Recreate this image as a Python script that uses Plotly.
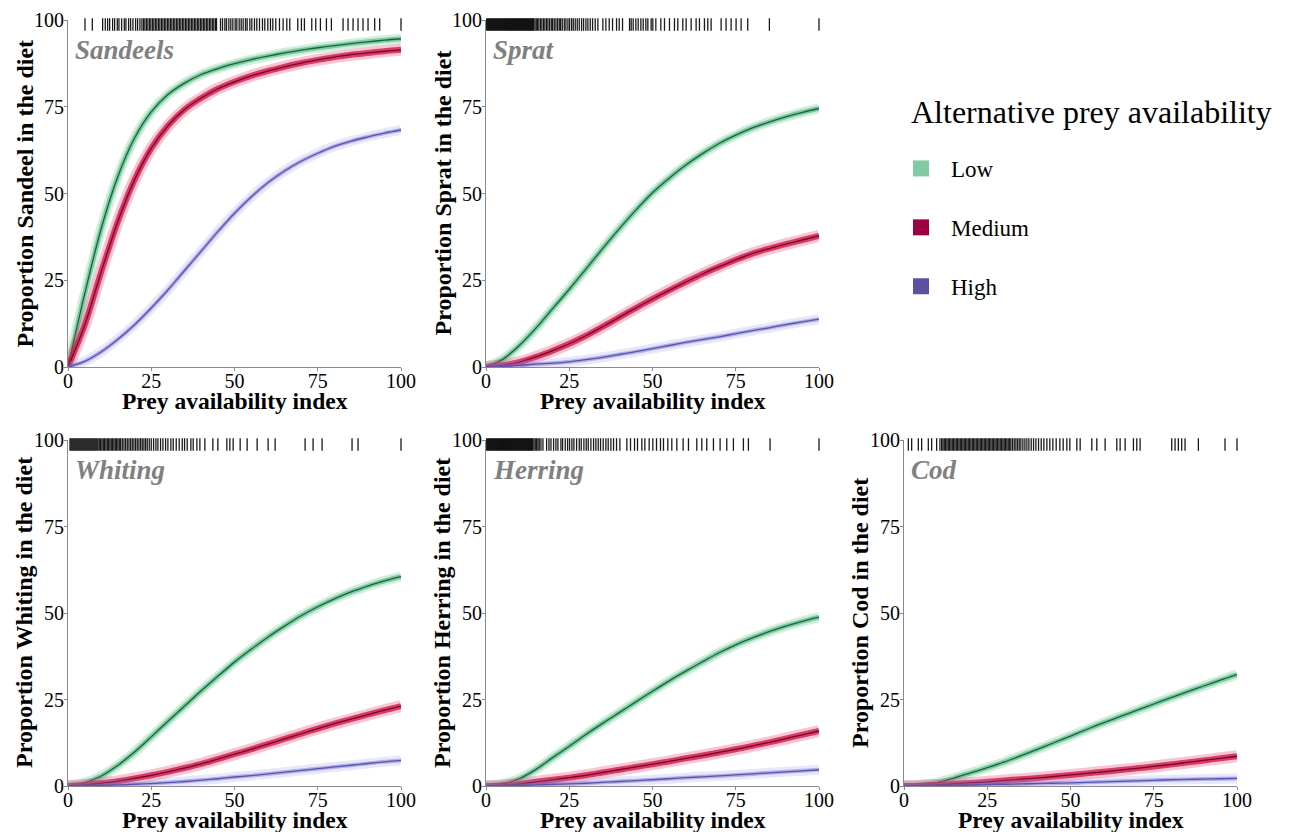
import plotly.graph_objects as go

# ---------------- data ----------------
x_grid = [0, 5, 10, 15, 20, 25, 30, 35, 40, 45, 50, 55, 60, 65, 70, 75, 80, 85, 90, 95, 100]

species = ["Sandeels", "Sprat", "Whiting", "Herring", "Cod"]
y_titles = ["Proportion Sandeel in the diet", "Proportion Sprat in the diet",
            "Proportion Whiting in the diet", "Proportion Herring in the diet",
            "Proportion Cod in the diet"]
levels = ["Low", "Medium", "High"]

sandeels_low = [0, 21, 40, 55, 66, 73.5, 78.5, 81.8, 84.3, 86, 87.4, 88.6, 89.6, 90.5, 91.3, 92, 92.6, 93.2, 93.7, 94.2, 94.6]
sandeels_med = [0, 12, 27.5, 42, 54, 63, 69.5, 74.2, 77.5, 80.2, 82.2, 83.9, 85.3, 86.5, 87.6, 88.5, 89.3, 90, 90.5, 91, 91.4]
sandeels_high = [0, 1.6, 4.4, 8.0, 12.2, 17.0, 22.2, 27.8, 33.4, 39.0, 44.3, 49.0, 53.1, 56.5, 59.3, 61.6, 63.6, 65.1, 66.3, 67.4, 68.3]

sprat_low = [0, 2.2, 6.2, 11.2, 16.8, 22.4, 28.2, 34.1, 39.8, 45.2, 50.2, 54.4, 58.2, 61.5, 64.4, 66.8, 68.9, 70.6, 72.1, 73.4, 74.5]
sprat_med = [0, 0.5, 1.4, 2.9, 4.7, 6.7, 9, 11.6, 14.3, 17, 19.6, 22.1, 24.5, 26.8, 28.9, 30.9, 32.7, 34.1, 35.4, 36.6, 37.8]
sprat_high = [0, 0.2, 0.5, 0.8, 1.1, 1.5, 2.1, 2.8, 3.6, 4.4, 5.3, 6.2, 7.1, 7.9, 8.7, 9.6, 10.5, 11.3, 12.2, 13, 13.8]

whiting_low = [0, 0.9, 2.9, 6, 9.8, 14.2, 18.7, 23.1, 27.5, 31.7, 35.8, 39.5, 43, 46.2, 49.2, 51.8, 54.1, 56.1, 57.8, 59.3, 60.5]
whiting_med = [0, 0.3, 0.8, 1.4, 2.2, 3.1, 4.1, 5.2, 6.4, 7.8, 9.2, 10.6, 12.1, 13.6, 15.1, 16.6, 18, 19.3, 20.6, 21.9, 23.1]
whiting_high = [0, 0.1, 0.2, 0.35, 0.5, 0.7, 1.0, 1.3, 1.7, 2.1, 2.6, 3.0, 3.5, 4.0, 4.5, 5.0, 5.5, 6.0, 6.5, 7.0, 7.4]

herring_low = [0, 0.6, 2.1, 4.8, 8.2, 11.5, 14.9, 18.1, 21.2, 24.3, 27.4, 30.4, 33.2, 35.9, 38.5, 40.8, 42.8, 44.6, 46.2, 47.6, 48.8]
herring_med = [0, 0.15, 0.6, 1.2, 1.8, 2.4, 3.1, 3.9, 4.7, 5.5, 6.3, 7.1, 8, 8.8, 9.7, 10.6, 11.6, 12.6, 13.7, 14.8, 15.9]
herring_high = [0, 0.05, 0.2, 0.35, 0.5, 0.6, 0.8, 1.05, 1.3, 1.55, 1.8, 2.1, 2.4, 2.65, 2.9, 3.2, 3.5, 3.8, 4.1, 4.4, 4.7]

cod_low = [0, 0.3, 1.0, 2.3, 3.8, 5.3, 6.9, 8.7, 10.6, 12.5, 14.4, 16.4, 18.3, 20.1, 21.9, 23.7, 25.5, 27.2, 28.9, 30.6, 32.2]
cod_med = [0, 0.1, 0.3, 0.6, 0.9, 1.2, 1.6, 1.95, 2.3, 2.75, 3.2, 3.65, 4.1, 4.6, 5.1, 5.65, 6.2, 6.8, 7.4, 8.0, 8.6]
cod_high = [0, 0.02, 0.1, 0.15, 0.3, 0.4, 0.5, 0.6, 0.7, 0.8, 0.9, 1.05, 1.2, 1.35, 1.5, 1.65, 1.8, 1.9, 2.0, 2.1, 2.2]

sandeels_rug = [5.1, 7.3, 10.4, 11.2, 11.9, 12.5, 13.4, 14.0, 14.8, 15.3, 16.1, 16.9, 17.4, 18.2, 18.8, 19.5,
                20.3, 20.9, 21.6, 22.2, 22.7, 23.1, 23.6, 24.0, 24.5, 24.9, 25.4, 25.8, 26.3, 26.7, 27.2, 27.6,
                28.1, 28.5, 29.0, 29.4, 29.9, 30.3, 30.8, 31.2, 31.7, 32.1, 32.6, 33.0, 33.5, 33.9, 34.4, 34.8,
                35.3, 35.7, 36.2, 36.6, 37.1, 37.5, 38.0, 38.4, 38.9, 39.3, 39.8, 40.2, 40.7, 41.1, 41.6, 42.0,
                42.5, 42.9, 43.4, 43.8, 44.3, 44.6, 45.8, 46.4, 47.1, 47.6, 48.3, 48.9, 49.5, 50.2, 50.7, 51.4,
                52.0, 52.6, 53.3, 53.8, 54.6, 55.2, 56.0, 56.7, 57.5, 58.4, 59.1, 60.0, 60.8, 61.5, 62.4, 63.5,
                64.6, 65.7, 66.6, 69.0, 70.1, 71.0, 73.2, 74.4, 75.8, 77.6, 79.1, 82.6, 84.1, 85.6, 87.1, 88.6,
                90.1, 92.1, 93.6, 100.0]
sprat_rug = [0.2, 0.5, 0.8, 1.1, 1.4, 1.7, 2.0, 2.3, 2.6, 2.9, 3.2, 3.5, 3.8, 4.1, 4.4, 4.7, 5.0, 5.3, 5.6,
             5.9, 6.2, 6.5, 6.8, 7.1, 7.4, 7.7, 8.0, 8.3, 8.6, 8.9, 9.2, 9.5, 9.8, 10.1, 10.4, 10.7, 11.0,
             11.3, 11.6, 11.9, 12.2, 12.5, 12.8, 13.1, 13.4, 13.7, 14.0, 14.3, 14.7, 15.1, 15.5, 15.9, 16.4,
             16.8, 17.3, 17.7, 18.2, 18.6, 19.1, 19.6, 20.0, 20.5, 21.0, 21.5, 22.0, 22.4, 22.9, 23.5, 24.0,
             24.6, 25.1, 25.7, 26.2, 26.8, 27.4, 28.0, 28.7, 29.3, 30.0, 30.6, 31.3, 32.0, 32.8, 33.6, 35.1,
             36.0, 37.0, 38.0, 39.2, 40.0, 41.0, 43.1, 43.6, 44.2, 45.0, 45.7, 46.5, 47.2, 48.0, 48.6, 49.6,
             50.1, 51.0, 52.5, 53.6, 55.1, 56.6, 57.6, 59.1, 60.1, 61.6, 63.1, 64.1, 65.6, 66.6, 67.6, 70.6,
             72.1, 73.6, 75.1, 76.6, 78.6, 85.1, 100.0]
whiting_rug = [0.6, 0.9, 1.2, 1.5, 1.8, 2.1, 2.4, 2.7, 3.0, 3.3, 3.6, 3.9, 4.2, 4.5, 4.8, 5.1, 5.4, 5.7, 6.0,
               6.3, 6.6, 6.9, 7.2, 7.5, 7.8, 8.1, 8.4, 8.7, 9.0, 9.4, 9.8, 10.2, 10.6, 11.0, 11.4, 11.8, 12.2,
               12.6, 13.0, 13.4, 13.8, 14.2, 14.6, 15.0, 15.4, 15.8, 16.3, 16.8, 17.3, 17.8, 18.3, 18.8, 19.3,
               19.8, 20.3, 20.8, 21.3, 21.8, 22.3, 22.8, 23.3, 23.8, 24.4, 25.0, 25.7, 26.4, 27.0, 27.8, 28.5,
               29.3, 30.0, 30.9, 31.6, 32.5, 33.4, 34.3, 35.0, 35.8, 36.9, 37.6, 38.7, 39.6, 41.1, 43.5, 45.0,
               47.7, 48.6, 49.6, 51.7, 53.8, 56.8, 60.1, 62.2, 71.2, 73.6, 76.3, 85.3, 87.1, 100.0]
herring_rug = [0.2, 0.5, 0.8, 1.1, 1.4, 1.7, 2.0, 2.3, 2.6, 2.9, 3.2, 3.5, 3.8, 4.1, 4.4, 4.7, 5.0, 5.3, 5.6,
               5.9, 6.2, 6.5, 6.8, 7.1, 7.4, 7.7, 8.0, 8.3, 8.6, 8.9, 9.2, 9.5, 9.8, 10.1, 10.4, 10.7, 11.0,
               11.3, 11.6, 11.9, 12.2, 12.5, 12.8, 13.1, 13.4, 13.7, 14.0, 14.4, 14.8, 15.2, 15.6, 16.0, 16.5,
               17.1, 18.2, 18.9, 19.5, 20.3, 21.0, 21.6, 22.5, 23.0, 23.8, 24.5, 25.1, 25.8, 26.4, 27.2, 28.0,
               28.6, 29.4, 30.1, 30.7, 31.5, 32.3, 33.0, 33.7, 34.4, 35.2, 36.0, 36.7, 37.5, 38.3, 39.2, 40.2,
               42.3, 43.4, 44.6, 45.5, 46.8, 47.7, 49.0, 50.1, 51.2, 52.4, 53.3, 54.6, 55.8, 57.3, 59.2, 60.8,
               63.3, 64.8, 66.3, 68.3, 70.3, 72.3, 74.3, 77.3, 78.8, 85.3, 100.0]
cod_rug = [1.3, 2.3, 4.3, 5.3, 7.3, 8.3, 9.8, 10.8, 11.3, 11.7, 12.1, 12.5, 12.9, 13.3, 13.7, 14.1, 14.5, 14.9,
           15.3, 15.7, 16.1, 16.5, 16.9, 17.3, 17.7, 18.1, 18.5, 18.9, 19.3, 19.7, 20.1, 20.5, 20.9, 21.3, 21.7,
           22.1, 22.5, 22.9, 23.3, 23.7, 24.1, 24.5, 24.9, 25.3, 25.7, 26.1, 26.5, 26.9, 27.3, 27.7, 28.1, 28.5,
           28.9, 29.3, 29.7, 30.1, 30.5, 30.9, 31.3, 31.7, 32.1, 32.6, 33.1, 33.6, 34.1, 34.6, 35.1, 35.7, 36.3,
           36.9, 37.5, 38.2, 38.9, 39.6, 40.4, 41.2, 42.0, 42.9, 43.8, 44.7, 45.7, 46.8, 47.8, 48.9, 49.8, 51.9,
           52.9, 56.4, 57.9, 60.4, 63.9, 64.9, 66.4, 68.9, 69.9, 70.9, 80.4, 81.4, 82.4, 83.4, 84.4, 88.4, 96.4,
           100.0]

tick_vals = [0, 25, 50, 75, 100]
x_title = "Prey availability index"
legend_title = "Alternative prey availability"

curves = {
    "Sandeels": [sandeels_low, sandeels_med, sandeels_high],
    "Sprat": [sprat_low, sprat_med, sprat_high],
    "Whiting": [whiting_low, whiting_med, whiting_high],
    "Herring": [herring_low, herring_med, herring_high],
    "Cod": [cod_low, cod_med, cod_high],
}
rugs = {"Sandeels": sandeels_rug, "Sprat": sprat_rug, "Whiting": whiting_rug,
        "Herring": herring_rug, "Cod": cod_rug}

# ---------------- styling ----------------
OFF = 8                      # default page body margin
W, H = 1292 - OFF, 832 - OFF
FONT = "Liberation Serif"


def px(sx):
    return (sx - OFF) / W


def py(sy):
    return 1 - (sy - OFF) / H


# panel screen-pixel boxes: (left, right, top, bottom)
boxes = [(68, 401, 20, 367), (486, 819, 20, 367),
         (68, 401, 440, 786), (486, 819, 440, 786), (904, 1237, 440, 786)]

styles = {
    "Low": dict(outer="rgba(110,200,150,0.30)", mid="rgba(60,175,115,0.55)", core="#17643a", legend="#80cba3"),
    "Medium": dict(outer="rgba(225,50,100,0.28)", mid="rgba(205,20,70,0.78)", core="#7c0028", legend="#9e0142"),
    "High": dict(outer="rgba(150,150,230,0.22)", mid="rgba(115,110,205,0.45)", core="#5a52b2", legend="#5e4fa2"),
}
widths = {"Low": (10, 5), "Medium": (12, 6), "High": (10, 4)}

fig = go.Figure()
layout = dict(width=W, height=H, margin=dict(l=0, r=0, t=0, b=0, autoexpand=False),
              paper_bgcolor="white", plot_bgcolor="white",
              font=dict(family=FONT, color="black"))
annotations = []

axis_common = dict(range=[0, 100], tickvals=tick_vals, showgrid=False, zeroline=False,
                   showline=True, linecolor="#8a8a8a", linewidth=1, ticks="outside",
                   ticklen=3, tickcolor="#8a8a8a", tickfont=dict(family=FONT, size=20, color="black"),
                   fixedrange=True, automargin=False)

for i, sp in enumerate(species):
    n = i + 1
    xa = "x" if n == 1 else f"x{n}"
    ya = "y" if n == 1 else f"y{n}"
    l, r, t, b = boxes[i]
    layout["xaxis" if n == 1 else f"xaxis{n}"] = dict(axis_common, domain=[px(l), px(r)], anchor=ya,
                                                      ticklabelstandoff=-7)
    layout["yaxis" if n == 1 else f"yaxis{n}"] = dict(axis_common, domain=[py(b), py(t)], anchor=xa,
                                                      ticklabelstandoff=-4)

    for lev, vals in zip(levels, curves[sp]):
        st = styles[lev]
        wo, wm = widths[lev]
        fig.add_trace(go.Scatter(x=x_grid, y=vals, xaxis=xa, yaxis=ya, mode="lines",
                                 line=dict(color=st["outer"], width=wo, shape="spline", smoothing=0.8),
                                 showlegend=False, hoverinfo="skip"))
        fig.add_trace(go.Scatter(x=x_grid, y=vals, xaxis=xa, yaxis=ya, mode="lines",
                                 line=dict(color=st["mid"], width=wm, shape="spline", smoothing=0.8),
                                 showlegend=False, hoverinfo="skip"))
        fig.add_trace(go.Scatter(x=x_grid, y=vals, xaxis=xa, yaxis=ya, mode="lines",
                                 line=dict(color=st["core"], width=1.3, shape="spline", smoothing=0.8),
                                 name=f"{sp} - {lev}", showlegend=False))

    rug = rugs[sp]
    fig.add_trace(go.Scatter(x=rug, y=[98.7] * len(rug), xaxis=xa, yaxis=ya, mode="markers",
                             marker=dict(symbol="line-ns", size=9,
                                         line=dict(width=1.3, color="rgba(0,0,0,0.9)")),
                             cliponaxis=False, showlegend=False, hoverinfo="skip"))

    # species label
    annotations.append(dict(text=f"<b><i>{sp}</i></b>", xref="paper", yref="paper",
                            x=px(l + 5), y=py(t + 30), xanchor="left", yanchor="middle",
                            showarrow=False, font=dict(family=FONT, size=27, color="#808080")))
    # axis titles
    annotations.append(dict(text=f"<b>{x_title}</b>", xref="paper", yref="paper",
                            x=px((l + r) / 2), y=py(b + 34), xanchor="center", yanchor="middle",
                            showarrow=False, font=dict(family=FONT, size=23.5, color="black")))
    annotations.append(dict(text=f"<b>{y_titles[i]}</b>", xref="paper", yref="paper",
                            x=px(l - 44), y=py((t + b) / 2), xanchor="center", yanchor="middle",
                            textangle=-90, showarrow=False,
                            font=dict(family=FONT, size=24, color="black")))

# legend title and entries
annotations.append(dict(text=legend_title, xref="paper", yref="paper",
                        x=px(909), y=py(112), xanchor="left", yanchor="middle",
                        showarrow=False, font=dict(family=FONT, size=32, color="black")))
for lev in levels:
    fig.add_trace(go.Scatter(x=[None], y=[None], mode="markers", name=lev, legendgroup=lev,
                             marker=dict(symbol="square", size=18, color=styles[lev]["legend"])))

layout["annotations"] = annotations
layout["showlegend"] = True
layout["legend"] = dict(x=px(891), y=py(147), xanchor="left", yanchor="top",
                        font=dict(family=FONT, size=23, color="black"),
                        traceorder="grouped", tracegroupgap=26, itemwidth=50,
                        bgcolor="rgba(0,0,0,0)")
fig.update_layout(**layout)
fig.write_html("out.html")
